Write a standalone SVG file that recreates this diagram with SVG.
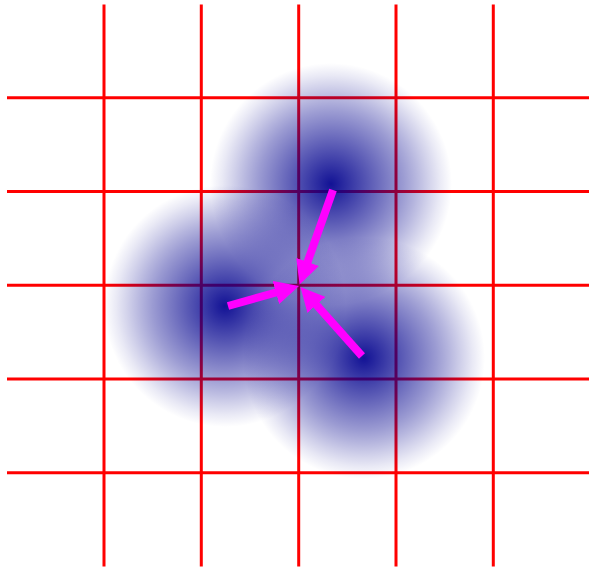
<svg xmlns="http://www.w3.org/2000/svg" width="589" height="570" viewBox="0 0 589 570">
  <style>
    .grid line { stroke: #ff0000; stroke-width: 3; }
    .arrow { stroke: #ff00ff; stroke-width: 8; fill: none; marker-end: url(#head); }
  </style>
  <defs>
    <radialGradient id="blob" cx="0.5" cy="0.5" r="0.5">
      <stop offset="0" stop-color="#00008d" stop-opacity="0.93"/>
      <stop offset="0.1" stop-color="#00008d" stop-opacity="0.84"/>
      <stop offset="0.2" stop-color="#00008d" stop-opacity="0.75"/>
      <stop offset="0.3" stop-color="#00008d" stop-opacity="0.66"/>
      <stop offset="0.4" stop-color="#00008d" stop-opacity="0.57"/>
      <stop offset="0.5" stop-color="#00008d" stop-opacity="0.48"/>
      <stop offset="0.6" stop-color="#00008d" stop-opacity="0.39"/>
      <stop offset="0.7" stop-color="#00008d" stop-opacity="0.29"/>
      <stop offset="0.8" stop-color="#00008d" stop-opacity="0.185"/>
      <stop offset="0.9" stop-color="#00008d" stop-opacity="0.085"/>
      <stop offset="1" stop-color="#00008d" stop-opacity="0"/>
    </radialGradient>
    <marker id="head" markerUnits="userSpaceOnUse" markerWidth="24" markerHeight="24" viewBox="0 0 24 24" refX="2" refY="12" orient="auto">
      <path d="M0,0 L24,12 L0,24 Z" fill="#ff00ff"/>
    </marker>
  </defs>
  <rect width="589" height="570" fill="#ffffff"/>
  <g id="grid" class="grid">
    <line x1="104" y1="4.5" x2="104" y2="566.5"/>
    <line x1="201.3" y1="4.5" x2="201.3" y2="566.5"/>
    <line x1="298.7" y1="4.5" x2="298.7" y2="566.5"/>
    <line x1="396" y1="4.5" x2="396" y2="566.5"/>
    <line x1="493.3" y1="4.5" x2="493.3" y2="566.5"/>
    <line x1="7" y1="97.7" x2="589" y2="97.7"/>
    <line x1="7" y1="191.5" x2="589" y2="191.5"/>
    <line x1="7" y1="285.2" x2="589" y2="285.2"/>
    <line x1="7" y1="379" x2="589" y2="379"/>
    <line x1="7" y1="472.7" x2="589" y2="472.7"/>
  </g>
  <g id="blob-top"><circle cx="331" cy="184" r="121" fill="url(#blob)"/></g>
  <g id="blob-left"><circle cx="225" cy="306" r="121" fill="url(#blob)"/></g>
  <g id="blob-bottom"><circle cx="364" cy="358" r="121" fill="url(#blob)"/></g>
  <g id="connectors">
    <line class="arrow" x1="333" y1="190" x2="306.9" y2="263.8"/>
    <line class="arrow" x1="228" y1="306" x2="277.8" y2="292"/>
    <line class="arrow" x1="362" y1="356" x2="315.1" y2="303.4"/>
  </g>
</svg>
